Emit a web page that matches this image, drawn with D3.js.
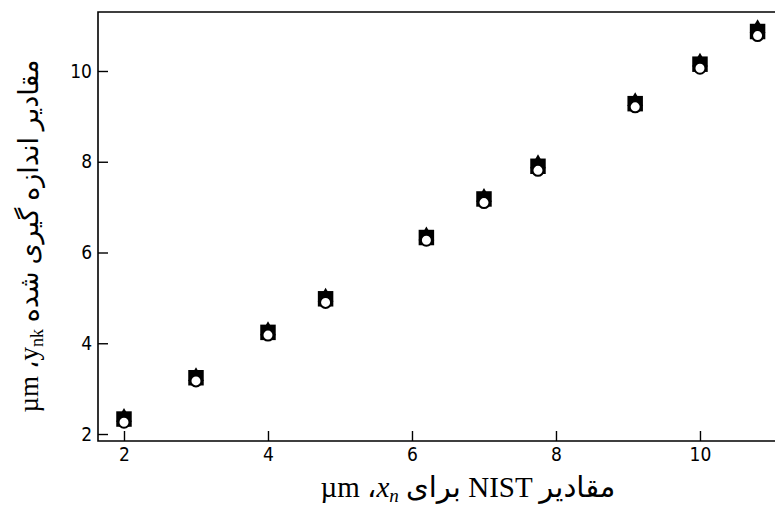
<!DOCTYPE html>
<html>
<head>
<meta charset="utf-8">
<script src="https://cdn.jsdelivr.net/npm/d3@7"></script>
<style>
  body { margin: 0; background: #fff; }
  .lbl { font-family: "Liberation Serif", "DejaVu Sans", serif; fill: #000; }
</style>
</head>
<body>
<div id="vis"></div>
<script>
// NIST reference values x_n (µm)
const nistValues = [2, 3, 4, 4.8, 6.2, 7, 7.75, 9.1, 10, 10.8];
// measured values y_nk (µm), one array per marker type
const squareVals   = [2.33, 3.24, 4.24, 4.98, 6.33, 7.18, 7.9, 9.28, 10.15, 10.87];
const triangleVals = [2.37, 3.27, 4.28, 5.02, 6.37, 7.22, 7.96, 9.33, 10.2, 10.94];
const circleVals   = [2.26, 3.17, 4.18, 4.9, 6.27, 7.1, 7.81, 9.21, 10.06, 10.78];

const xTicks = [2, 4, 6, 8, 10];
const yTicks = [2, 4, 6, 8, 10];

const W = 775, H = 510;
const margin = { top: 12, right: 0, bottom: 69, left: 98 };
const width = W - margin.left - margin.right,
      height = H - margin.top - margin.bottom;

const svg = d3.select("#vis").append("svg")
  .attr("width", W)
  .attr("height", H);

const g = svg.append("g")
  .attr("transform", `translate(${margin.left},${margin.top})`);

const x = d3.scaleLinear().domain([1.639, 11.042]).range([0, width]);
const y = d3.scaleLinear().domain([1.846, 11.30]).range([height, 0]);

// frame (right side runs off the picture)
g.append("path")
  .attr("d", `M${width + 5},0H0V${height}H${width + 5}`)
  .attr("fill", "none")
  .attr("stroke", "#000")
  .attr("stroke-width", 1.6);

const xAxis = g.append("g")
  .attr("transform", `translate(0,${height})`)
  .call(d3.axisBottom(x).tickValues(xTicks).tickSize(-10).tickSizeOuter(0).tickPadding(7).tickFormat(d3.format("d")));
xAxis.select(".domain").remove();

const yAxis = g.append("g")
  .call(d3.axisLeft(y).tickValues(yTicks).tickSize(-10).tickSizeOuter(0).tickPadding(6).tickFormat(d3.format("d")));
yAxis.select(".domain").remove();

g.selectAll(".tick line").attr("stroke", "#000").attr("stroke-width", 1.4);
g.selectAll(".tick text")
  .attr("fill", "#000")
  .style("font-family", "'DejaVu Sans Condensed', 'Liberation Sans Narrow', sans-serif")
  .style("font-size", "19px");

const rows = nistValues.map((xv, i) => ({ x: xv, sq: squareVals[i], tri: triangleVals[i], circ: circleVals[i] }));

g.selectAll("path.tri")
  .data(rows)
  .join("path")
  .attr("class", "tri")
  .attr("transform", d => `translate(${x(d.x)},${y(d.tri)})`)
  .attr("d", d3.symbol(d3.symbolTriangle, 110))
  .attr("fill", "#000");

g.selectAll("path.sq")
  .data(rows)
  .join("path")
  .attr("class", "sq")
  .attr("transform", d => `translate(${x(d.x)},${y(d.sq)})`)
  .attr("d", d3.symbol(d3.symbolSquare, 240))
  .attr("fill", "#000");

g.selectAll("circle.circ")
  .data(rows)
  .join("circle")
  .attr("class", "circ")
  .attr("cx", d => x(d.x))
  .attr("cy", d => y(d.circ))
  .attr("r", 5.5)
  .attr("fill", "#fff")
  .attr("stroke", "#000")
  .attr("stroke-width", 2);

// x label
const xl = svg.append("text")
  .attr("class", "lbl")
  .attr("x", 468)
  .attr("y", 497)
  .attr("text-anchor", "middle")
  .attr("direction", "ltr")
  .style("font-size", "29px");
xl.append("tspan").text("µm \u060C");
xl.append("tspan").style("font-style", "italic").text("x");
xl.append("tspan").attr("dy", 5).style("font-style", "italic").style("font-size", "19px").text("n");
xl.append("tspan").attr("dy", -5).text(" برای NIST مقادیر");

// y label
const yl = svg.append("text")
  .attr("class", "lbl")
  .attr("transform", "translate(38,236) rotate(-90)")
  .attr("text-anchor", "middle")
  .attr("direction", "ltr")
  .style("font-size", "27px");
yl.append("tspan").text("µm \u060C");
yl.append("tspan").text("y");
yl.append("tspan").attr("dy", 5).style("font-size", "18px").text("nk");
yl.append("tspan").attr("dy", -5).text(" مقادیر اندازه گیری شده");
</script>
</body>
</html>
